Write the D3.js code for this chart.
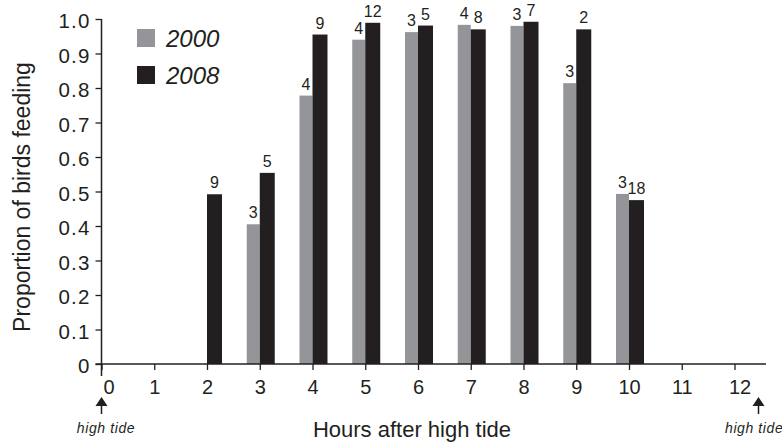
<!DOCTYPE html>
<html>
<head>
<meta charset="utf-8">
<script src="https://cdn.jsdelivr.net/npm/d3@7"></script>
<style>
  html, body { margin: 0; padding: 0; background: #fff; }
  svg { display: block; font-family: "Liberation Sans", Arial, Helvetica, sans-serif; }
</style>
</head>
<body>
<script>
// Hours after high tide that carry observations
const barHours = [2, 3, 4, 5, 6, 7, 8, 9, 10];
// Proportion of birds feeding per hour (null = no observation)
const prop2000 = [null, 0.405, 0.778, 0.940, 0.962, 0.983, 0.980, 0.814, 0.493];
const prop2008 = [0.492, 0.554, 0.955, 0.989, 0.981, 0.970, 0.992, 0.970, 0.475];
// Sample sizes printed above the bars
const n2000 = [null, 3, 4, 4, 3, 4, 3, 3, 3];
const n2008 = [9, 5, 9, 12, 5, 8, 7, 2, 18];
// Axis ticks
const xTicks = d3.range(0, 13);
const yTicks = d3.range(0, 11).map(d => d / 10);
const seriesNames = ["2000", "2008"];

const W = 782, H = 444;
const ink = "#231f20";
const colors = { "2000": "#939598", "2008": "#231f20" };

const svg = d3.select("body").append("svg")
  .attr("width", W).attr("height", H);

const x = d3.scaleLinear().domain([0, 12]).range([101.5, 734.5]);
const y = d3.scaleLinear().domain([0, 1]).range([364, 19]);
const x0 = x(0);

// Bars: 2000 sits just left of the hour tick, 2008 just right
const grayW = 13, blackW = 15;
const rows = barHours.map((h, i) => ({ h, a: prop2000[i], b: prop2008[i], na: n2000[i], nb: n2008[i] }));

svg.append("g").selectAll("rect.a")
  .data(rows.filter(d => d.a != null))
  .join("rect")
  .attr("x", d => x(d.h) - grayW)
  .attr("width", grayW)
  .attr("y", d => y(d.a))
  .attr("height", d => y(0) - y(d.a))
  .attr("fill", colors["2000"]);

svg.append("g").selectAll("rect.b")
  .data(rows.filter(d => d.b != null))
  .join("rect")
  .attr("x", d => x(d.h))
  .attr("width", blackW)
  .attr("y", d => y(d.b))
  .attr("height", d => y(0) - y(d.b))
  .attr("fill", colors["2008"]);

// Sample-size labels
const lab = svg.append("g").attr("font-size", 16).attr("fill", ink).attr("text-anchor", "middle");
lab.selectAll("text.a")
  .data(rows.filter(d => d.a != null))
  .join("text")
  .attr("x", d => x(d.h) - grayW / 2)
  .attr("y", d => y(d.a) - 6)
  .text(d => d.na);
lab.selectAll("text.b")
  .data(rows.filter(d => d.b != null))
  .join("text")
  .attr("x", d => x(d.h) + blackW / 2)
  .attr("y", d => y(d.b) - 6)
  .text(d => d.nb);

// Y axis
const yAxis = svg.append("g")
  .attr("transform", `translate(${x0},0)`)
  .call(d3.axisLeft(y).tickValues(yTicks).tickSize(6).tickPadding(5)
    .tickFormat(d => d === 0 ? "0" : d3.format(".1f")(d)));
yAxis.select(".domain").remove();
yAxis.selectAll("line").attr("stroke", ink).attr("stroke-width", 1.3);
yAxis.selectAll("text").attr("font-size", 20.5).attr("fill", ink)
  .attr("font-family", "Liberation Sans, Arial, sans-serif")
  .attr("letter-spacing", 1.2).attr("dy", "0.42em");

// X axis
const xAxis = svg.append("g")
  .attr("transform", `translate(0,${y(0)})`)
  .call(d3.axisBottom(x).tickValues(xTicks).tickSize(6).tickPadding(10).tickFormat(d3.format("d")));
xAxis.select(".domain").remove();
xAxis.selectAll("line").attr("stroke", ink).attr("stroke-width", 1.3);
xAxis.selectAll("text").attr("font-size", 20).attr("fill", ink)
  .attr("font-family", "Liberation Sans, Arial, sans-serif")
  .attr("dx", d => d === 0 ? 7 : d === 12 ? 5 : 0);

// Axis lines
svg.append("line")
  .attr("x1", x0).attr("x2", x0).attr("y1", y(1)).attr("y2", y(0) + 12)
  .attr("stroke", ink).attr("stroke-width", 1.5);
svg.append("line")
  .attr("x1", x0 - 6).attr("x2", 766).attr("y1", y(0)).attr("y2", y(0))
  .attr("stroke", ink).attr("stroke-width", 1.5);

// Axis titles
svg.append("text")
  .attr("x", 412).attr("y", 437)
  .attr("text-anchor", "middle").attr("font-size", 22).attr("fill", ink)
  .text("Hours after high tide");
svg.append("text")
  .attr("transform", "translate(30,197) rotate(-90)")
  .attr("text-anchor", "middle").attr("font-size", 23).attr("fill", ink)
  .text("Proportion of birds feeding");

// High tide markers at hour 0 and hour 12
const tideMarks = [
  { px: x0, tx: 106, anchor: "middle" },
  { px: 758.5, tx: 725, anchor: "start" }
];
const tide = svg.append("g");
tideMarks.forEach(m => {
  tide.append("path")
    .attr("d", `M${m.px},397 L${m.px - 6},406 L${m.px + 6},406 Z`)
    .attr("fill", ink);
  tide.append("line")
    .attr("x1", m.px).attr("x2", m.px).attr("y1", 405).attr("y2", 414)
    .attr("stroke", ink).attr("stroke-width", 1.5);
  tide.append("text")
    .attr("x", m.tx).attr("y", 433)
    .attr("text-anchor", m.anchor)
    .attr("font-size", 14).attr("font-style", "italic").attr("fill", ink)
    .attr("letter-spacing", 0.6)
    .text("high tide");
});

// Legend
const leg = svg.append("g");
seriesNames.forEach((s, i) => {
  leg.append("rect")
    .attr("x", 137).attr("y", 29 + i * 37)
    .attr("width", 18).attr("height", 18)
    .attr("fill", colors[s]);
  leg.append("text")
    .attr("x", 166).attr("y", 47 + i * 36.5)
    .attr("font-size", 24).attr("font-style", "italic").attr("fill", ink)
    .text(s);
});
</script>
</body>
</html>
